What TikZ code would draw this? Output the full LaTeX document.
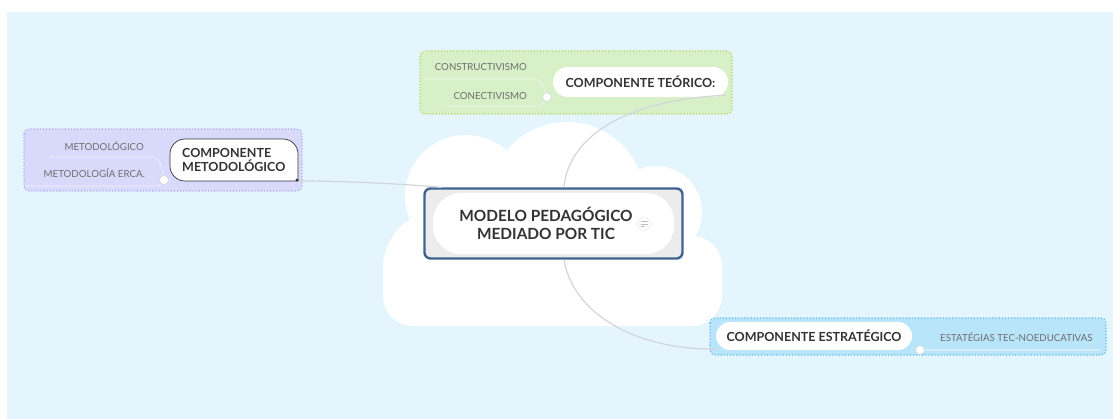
\documentclass[tikz,border=0pt]{standalone}
\usepackage{fontspec}
\setmainfont{Lato}
\usetikzlibrary{calc}
\definecolor{bgblue}{HTML}{E4F5FE}
\definecolor{cborder}{HTML}{3F6391}
\definecolor{cgrey}{HTML}{ECECEC}
\definecolor{headtxt}{HTML}{333333}
\definecolor{subtxt}{HTML}{6E6E6E}
\definecolor{conn}{HTML}{D2D6D8}
\definecolor{greenfill}{HTML}{D7F0C8}
\definecolor{greenline}{HTML}{A8D84E}
\definecolor{purplefill}{HTML}{D9DAFB}
\definecolor{purpleline}{HTML}{A5A6EC}
\definecolor{bluefill}{HTML}{B9E5FB}
\definecolor{blueline}{HTML}{4DB8EC}
\definecolor{sublinegreen}{HTML}{E6F3DE}
\definecolor{sublinepurple}{HTML}{E8E8FB}
\definecolor{sublineblue}{HTML}{D6EFFB}
\tikzset{
  group/.style={rounded corners=5pt, line width=1.1pt, dotted},
  topic/.style={fill=white, draw=none, font=\bfseries\fontsize{12.5}{14}\selectfont, text=headtxt, inner sep=0pt},
  subtopic/.style={font=\fontsize{9.7}{11}\selectfont, text=subtxt, inner sep=0pt},
  connector/.style={draw=conn, line width=1.2pt},
  subline/.style={line width=1.2pt},
  knob/.style={circle, fill=white, draw=conn, line width=0.6pt, minimum size=9pt, inner sep=0pt},
}
\begin{document}
\begin{tikzpicture}[x=1pt,y=-1pt]
\useasboundingbox (0,0) rectangle (1113,419);
% background
\fill[white] (0,0) rectangle (1113,419);
\fill[bgblue] (7,12) rectangle (1113,419);
% cloud
\begin{scope}[white]
  \fill[rounded corners=30pt] (383,236) rectangle (722,326);
  \fill (440,268) circle (57);
  \fill (466,196) circle (61);
  \fill (567,200) circle (78);
  \fill (656,212) circle (46);
  \fill (680,276) circle (42);
  \fill (520,240) rectangle (640,300);
\end{scope}
% group boxes
\path[group, fill=greenfill, draw=greenline] (420,51) rectangle (732,114);
\path[group, fill=purplefill, draw=purpleline] (24,129) rectangle (302,191);
\path[group, fill=bluefill, draw=blueline] (710,318) rectangle (1106,355);
% central node frame
\node[draw=cborder, line width=2.4pt, rounded corners=6pt, fill=cgrey,
      minimum width=258pt, minimum height=70pt, inner sep=0pt] (c) at (553.5,223.5) {};
\fill[white, rounded corners=28pt] (433,193) rectangle (674,254);
% topic nodes
\node[topic, minimum width=175pt, minimum height=30pt, rounded corners=15pt] (teo) at (640.5,82) {COMPONENTE TEÓRICO:};
\node[topic, minimum width=196pt, minimum height=28pt, rounded corners=14pt] (est) at (814,336) {COMPONENTE ESTRATÉGICO};
% metodologico node area
\coordinate (metse) at (298,181);
\node[inner sep=0pt, minimum width=128pt, minimum height=42pt] (met) at (234,160) {};
% knobs
\coordinate (teok) at (547,97);
\coordinate (metk) at (164,180);
\coordinate (estk) at (920,350);
% connectors centre -> topics
\coordinate (ctop) at ($(c.north)+(10.5,0)$);
\coordinate (cbot) at ($(c.south)+(10.5,0)$);
\coordinate (cleft) at ($(c.north west)+(18,0)$);
\draw[connector] (ctop) .. controls (568,140) and (620,100) .. ($(teo.south east)+(-2,-2)$);
\draw[connector] (cbot) .. controls (572,310) and (630,350) .. ($(est.south west)+(2,-1)$) -- (709,349);
\draw[connector] (cleft) .. controls (390,183) and (340,181) .. (metse);
% subtopic lines
\draw[subline, draw=sublinegreen] (teok) -- (teo.west |- teok);
\draw[subline, draw=sublinegreen] (424,79) -- (533,79) .. controls (543,79) and (544,90) .. (teok);
\draw[subline, draw=sublinegreen] (442,106) -- (536,106) .. controls (543,106) and (545,102) .. (teok);
\draw[subline, draw=sublinepurple] (50,157) -- (152,157) .. controls (160,157) and (162,168) .. (metk);
\draw[subline, draw=sublinepurple] (25,186) -- (156,186) .. controls (160,186) and (162,183) .. (metk);
\draw[subline, draw=sublinepurple] (metk) -- (170,180);
\draw[subline, draw=sublineblue] (estk) -- (1100,350);
% metodologico node drawing
\draw[draw=headtxt, line width=0.7pt, fill=white]
  (298,181) -- (298,154) arc[start angle=0, end angle=90, radius=15pt]
  -- (185,139) arc[start angle=90, end angle=180, radius=15pt]
  -- (170,166) arc[start angle=180, end angle=270, radius=15pt] -- cycle;
\fill[headtxt] (297,180) circle (1.6pt);
\node[anchor=west, align=left, font=\bfseries\fontsize{12.5}{14.5}\selectfont, text=headtxt, inner sep=0pt] (mettext) at (182,160) {COMPONENTE\\METODOLÓGICO};
% knob circles
\node[knob] at (teok) {};
\node[knob] at (metk) {};
\node[knob] at (estk) {};
% subtopics
\node[subtopic, anchor=east] (s1) at (527,67) {CONSTRUCTIVISMO};
\node[subtopic, anchor=east] (s2) at (527,96) {CONECTIVISMO};
\node[subtopic, anchor=east] (s3) at (144,146) {METODOLÓGICO};
\node[subtopic, anchor=east] (s4) at (145,173) {METODOLOGÍA ERCA.};
\node[subtopic, anchor=west] (s5) at (940,337) {ESTATÉGIAS TEC-NOEDUCATIVAS};
% central text
\node[align=center, font=\bfseries\fontsize{15.4}{18}\selectfont, text=headtxt, inner sep=0pt] (ctext) at (546,223) {MODELO PEDAGÓGICO\\MEDIADO POR TIC};
% note icon
\node[circle, fill=white, draw=cgrey, line width=0.8pt, minimum size=13pt, inner sep=0pt] (note) at (644,224) {};
\draw[gray!50, line width=0.7pt] ($(note.center)+(-3.5,-2.5)$) -- +(7,0)
  ($(note.center)+(-3.5,0)$) -- +(7,0) ($(note.center)+(-3.5,2.5)$) -- +(4.5,0);
\end{tikzpicture}
\end{document}
